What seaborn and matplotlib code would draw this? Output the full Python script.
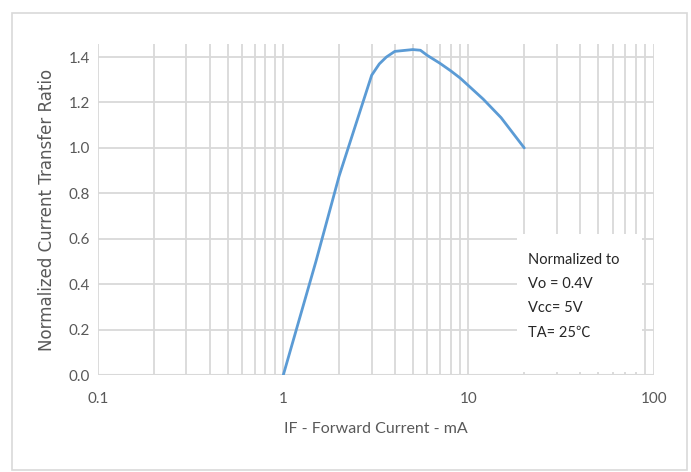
import matplotlib
matplotlib.use("Agg")
from matplotlib import pyplot as plt
from matplotlib.patches import Rectangle
import numpy as np
import pandas as pd
import seaborn as sns

# values
forward_current = [1, 1.5, 2, 2.5, 3, 3.3, 3.6, 4, 5, 5.5, 6, 7, 8, 9, 10, 12, 15, 20]
ctr_ratio = [0.0, 0.5, 0.875, 1.12, 1.32, 1.37, 1.40, 1.425, 1.433, 1.43, 1.407,
             1.373, 1.34, 1.308, 1.274, 1.215, 1.133, 1.0]
y_ticks = [0.0, 0.2, 0.4, 0.6, 0.8, 1.0, 1.2, 1.4]
x_ticks = [0.1, 1, 10, 100]
x_tick_labels = ["0.1", "1", "10", "100"]
note_lines = ["Normalized to", "Vo = 0.4V", "Vcc= 5V", "TA= 25\u2103"]

df = pd.DataFrame({"IF": forward_current, "CTR": ctr_ratio})

sns.set_theme(style="white")
plt.rcParams["font.family"] = ["Lato", "DejaVu Sans"]

fig = plt.figure(figsize=(6.91, 4.72), dpi=100)
ax = fig.add_axes([0.142, 0.2055, 0.804, 0.7015])

grid_c = "#d9d9d9"
txt_c = "#595959"

sns.lineplot(data=df, x="IF", y="CTR", ax=ax, color="#5B9BD5", linewidth=2.0,
             zorder=3)
ax.set_xscale("log")
ax.set_xlim(0.1, 100)
ax.set_ylim(0, 1.458)

# excel-style grid: every minor decade step on x, 0.2 steps on y
minor_x = [m * 10.0 ** e for e in range(-1, 2) for m in range(1, 10)] + [100]
for xv in minor_x:
    ax.axvline(xv, color=grid_c, lw=1.3, zorder=1)
for yv in y_ticks[1:]:
    ax.axhline(yv, color=grid_c, lw=1.3, zorder=1)
ax.axhline(0, color=grid_c, lw=1.5, zorder=2)

for s in ax.spines.values():
    s.set_visible(False)

ax.set_xticks(x_ticks)
ax.set_xticklabels(x_tick_labels)
ax.xaxis.set_minor_locator(matplotlib.ticker.NullLocator())
ax.set_yticks(y_ticks)
ax.set_yticklabels([f"{v:.1f}" for v in y_ticks])
ax.tick_params(axis="both", length=0, labelsize=11, colors=txt_c)
ax.tick_params(axis="x", pad=12)
ax.tick_params(axis="y", pad=6)

ax.set_xlabel("IF - Forward Current - mA", fontsize=11.5, color=txt_c, labelpad=12)
ax.set_ylabel("Normalized Current Transfer Ratio", fontsize=12, color=txt_c,
              family=["DejaVu Sans"], labelpad=9)

# white note box covering the grid
ax.add_patch(Rectangle((0.754, 0.01), 0.225, 0.415, transform=ax.transAxes,
                       facecolor="white", edgecolor="none", zorder=4))
for i, line in enumerate(note_lines):
    ax.text(0.774, 0.346 - i * 0.0725, line, transform=ax.transAxes, fontsize=10.5,
            color="#262626", va="center", zorder=5,
            family=["Lato", "Noto Sans CJK SC", "DejaVu Sans"])

# light frame around the whole chart
fig.patches.append(Rectangle((12 / 691, 2 / 472), 675 / 691, 457 / 472,
                             transform=fig.transFigure, fill=False,
                             edgecolor=grid_c, lw=1.2))

fig.savefig("out.png", dpi=100)
